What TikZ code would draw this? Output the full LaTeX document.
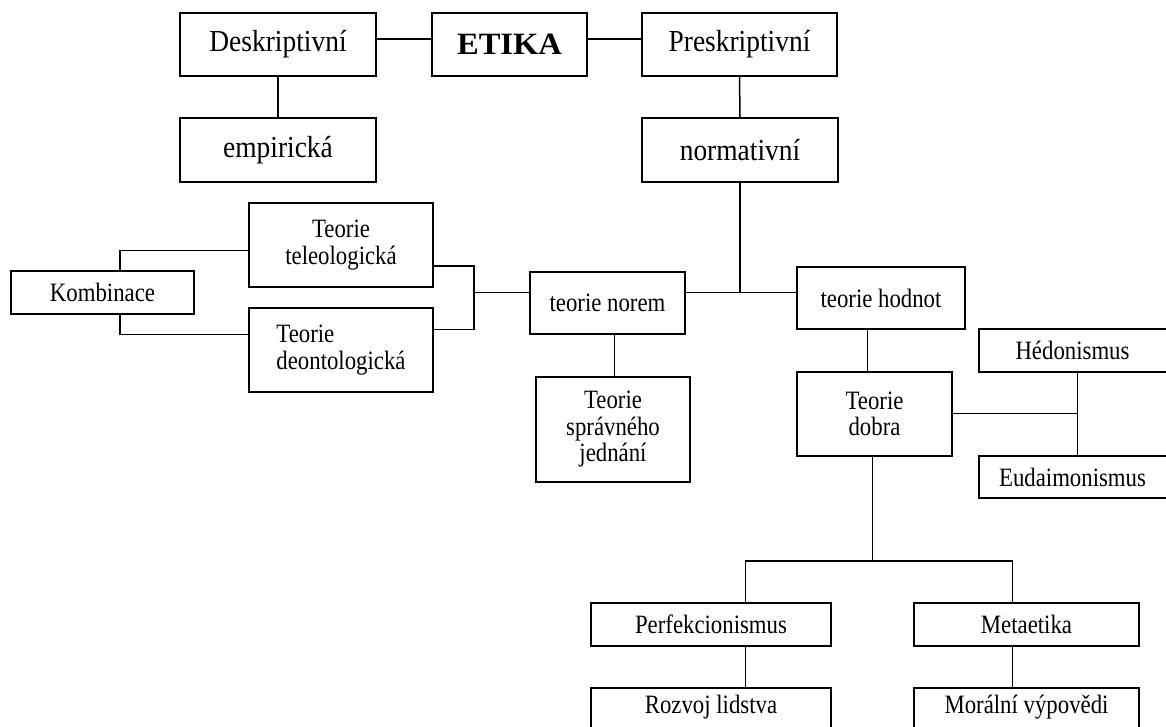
\documentclass[tikz,border=0pt]{standalone}
\usepackage{fontspec}
\setmainfont{Liberation Serif}
\newfontfamily\narrowA[FakeStretch=0.9]{Liberation Serif}
\newfontfamily\narrowB[FakeStretch=0.86]{Liberation Serif}
\newfontfamily\wideT[FakeStretch=1.05]{Liberation Serif}
\begin{document}
\begin{tikzpicture}[x=1pt,y=-1pt,
  box/.style={draw, line width=1.5pt, inner sep=0pt, anchor=center},
  openbox/.style={inner sep=0pt, anchor=center},
  topfont/.style={font=\narrowA\fontsize{30.5}{32}\selectfont},
  bodyfont/.style={font=\narrowB\fontsize{26.5}{26.5}\selectfont},
  titlefont/.style={font=\wideT\bfseries\fontsize{31}{32}\selectfont},
  conn/.style={line width=1.5pt}]
\useasboundingbox (0,0) rectangle (1166,727);
\fill[white] (0,0) rectangle (1166,727);
\clip (0,0) rectangle (1166,727);

% top rows
\node[box, topfont, minimum width=196pt, minimum height=63pt] (desk) at (278,44.5) {Deskriptivní};
\node[box, titlefont, minimum width=155pt, minimum height=63pt] (etika) at (509.5,44.5) {ETIKA};
\node[box, topfont, minimum width=195pt, minimum height=63pt] (presk) at (739.5,44.5) {Preskriptivní};
\node[box, topfont, minimum width=196pt, minimum height=64pt] (emp) at (278,150) {empirická};
\node[box, topfont, minimum width=196pt, minimum height=64pt] (norm) at (740,150) {normativní};

% left branch
\node[box, bodyfont, align=center, minimum width=184pt, minimum height=84pt] (teleo) at (341,245) {Teorie\\teleologická};
\node[box, bodyfont, minimum width=183pt, minimum height=43pt] (komb) at (102.5,292.5) {Kombinace};
\node[box, bodyfont, align=left, minimum width=184pt, minimum height=84pt] (deont) at (341,350) {Teorie\\deontologická};
\node[box, bodyfont, minimum width=155pt, minimum height=62pt] (norem) at (607.5,303) {teorie norem};
\node[box, bodyfont, align=center, minimum width=154pt, minimum height=105pt] (sprav) at (613,429.5) {Teorie\\správného\\jednání};

% right branch
\node[box, bodyfont, minimum width=168pt, minimum height=62pt] (hodnot) at (881,298) {teorie hodnot};
\node[box, bodyfont, align=center, minimum width=155pt, minimum height=84pt] (dobra) at (874.5,414) {Teorie\\dobra};
% boxes cut by the right edge of the picture: three sides drawn
\node[openbox, bodyfont, minimum width=187pt, minimum height=43pt] (hedon) at (1072.5,350.5) {Hédonismus};
\node[openbox, bodyfont, minimum width=187pt, minimum height=42pt] (eudai) at (1072.5,477) {Eudaimonismus};
\draw[conn] (hedon.north east) -- (hedon.north west) -- (hedon.south west) -- (hedon.south east);
\draw[conn] (eudai.north east) -- (eudai.north west) -- (eudai.south west) -- (eudai.south east);
\node[box, bodyfont, minimum width=240pt, minimum height=43pt] (perf) at (711,624.5) {Perfekcionismus};
\node[box, bodyfont, minimum width=225pt, minimum height=43pt] (meta) at (1026.5,624.5) {Metaetika};
% boxes cut by the bottom edge of the picture
\node[openbox, bodyfont, minimum width=240pt, minimum height=39pt] (rozvoj) at (711,707.5) {Rozvoj lidstva};
\node[openbox, bodyfont, minimum width=225pt, minimum height=39pt] (moral) at (1026.5,707.5) {Morální výpovědi};
\draw[conn] (rozvoj.south west) -- (rozvoj.north west) -- (rozvoj.north east) -- (rozvoj.south east);
\draw[conn] (moral.south west) -- (moral.north west) -- (moral.north east) -- (moral.south east);

% helper coordinates
\coordinate (jn) at (740,292.3);
\coordinate (tl) at (474,266);
\coordinate (dl) at (474,329.3);
\coordinate (jl) at (474,292.3);
\coordinate (kt) at (120,250.3);
\coordinate (kb) at (120,334.3);
\coordinate (ns) at (614.7,0);
\coordinate (hd) at (867.3,0);
\coordinate (dr) at (1077.3,413.3);
\coordinate (dd) at (872.3,561);
\coordinate (pl) at (745.7,561);
\coordinate (mr) at (1012.7,561);

% connectors
\draw[conn] ([yshift=5.5pt]desk.east) -- ([yshift=5.5pt]etika.west);
\draw[conn] ([yshift=5.5pt]etika.east) -- ([yshift=5.5pt]presk.west);
\draw[conn] (desk.south) -- (emp.north);
\draw[conn] (presk.south) -- (norm.north);
\draw[conn] (norm.south) -- (jn);
\draw[conn] (norem.east |- jn) -- (hodnot.west |- jn);
\draw[conn] (teleo.east |- tl) -- (tl) -- (dl) -- (deont.east |- dl);
\draw[conn] (jl) -- (norem.west |- jl);
\draw[conn] (komb.north -| kt) -- (kt) -- (teleo.west |- kt);
\draw[conn] (komb.south -| kb) -- (kb) -- (deont.west |- kb);
\draw[conn] (norem.south -| ns) -- (sprav.north -| ns);
\draw[conn] (hodnot.south -| hd) -- (dobra.north -| hd);
\draw[conn] (dobra.east |- dr) -- (dr);
\draw[conn] (hedon.south -| dr) -- (eudai.north -| dr);
\draw[conn] (dobra.south -| dd) -- (dd);
\draw[conn] (perf.north -| pl) -- (pl) -- (mr) -- (meta.north -| mr);
\draw[conn] (perf.south -| pl) -- (rozvoj.north -| pl);
\draw[conn] (meta.south -| mr) -- (moral.north -| mr);
\end{tikzpicture}
\end{document}
